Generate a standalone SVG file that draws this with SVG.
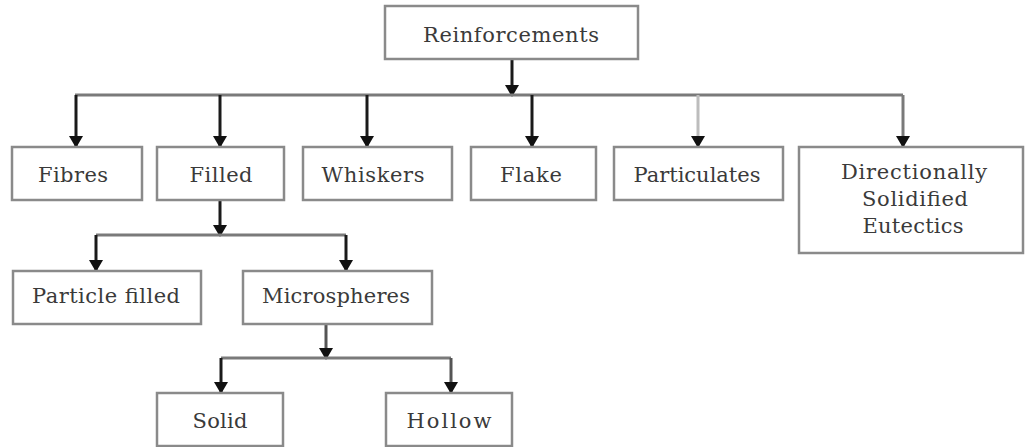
<svg xmlns="http://www.w3.org/2000/svg" width="1028" height="447" viewBox="0 0 1028 447">
<style>
.box{fill:#fff;stroke:#8a8a8a;stroke-width:2.5}
.t{font-family:'DejaVu Serif','Liberation Serif',serif;font-size:21px;fill:#3a3a3a;text-anchor:middle}
.h{stroke:#7a7a7a;stroke-width:3;fill:none}
.v{stroke:#1a1a1a;stroke-width:3;fill:none;marker-end:url(#ah)}
</style>
<defs>
<marker id="ah" markerUnits="userSpaceOnUse" markerWidth="12" markerHeight="14" refX="11" refY="7" orient="auto" viewBox="0 0 12 14">
<path d="M0,0 L12,7 L0,14 Z" fill="#111"/>
</marker>
</defs>
<g id="connectors">
<line class="v" x1="512" y1="59" x2="512" y2="96"/>
<line class="h" x1="75" y1="95" x2="903" y2="95"/>
<line class="v" x1="76" y1="95" x2="76" y2="147"/>
<line class="v" x1="220" y1="95" x2="220" y2="147"/>
<line class="v" x1="367" y1="95" x2="367" y2="147"/>
<line class="v" x1="532" y1="95" x2="532" y2="147"/>
<line class="v" x1="698" y1="95" x2="698" y2="147" style="stroke:#bdbdbd"/>
<line class="v" x1="903" y1="95" x2="903" y2="147" style="stroke:#7a7a7a"/>
<line class="v" x1="220" y1="200" x2="220" y2="236"/>
<line class="h" x1="96" y1="235" x2="346" y2="235"/>
<line class="v" x1="96" y1="235" x2="96" y2="271"/>
<line class="v" x1="346" y1="235" x2="346" y2="271"/>
<line class="v" x1="326" y1="324" x2="326" y2="359" style="stroke:#555"/>
<line class="h" x1="221" y1="358" x2="451" y2="358"/>
<line class="v" x1="221" y1="358" x2="221" y2="393"/>
<line class="v" x1="451" y1="358" x2="451" y2="393" style="stroke:#555"/>
</g>
<g id="reinforcements"><rect class="box" x="385" y="6" width="253" height="53"/><text class="t" x="511" y="42" textLength="176" lengthAdjust="spacing">Reinforcements</text></g>
<g id="fibres"><rect class="box" x="12" y="147" width="130" height="53"/><text class="t" x="73" y="182" textLength="70" lengthAdjust="spacing">Fibres</text></g>
<g id="filled"><rect class="box" x="157" y="147" width="127" height="53"/><text class="t" x="221" y="182" textLength="63" lengthAdjust="spacing">Filled</text></g>
<g id="whiskers"><rect class="box" x="303" y="147" width="149" height="53"/><text class="t" x="373" y="182" textLength="103" lengthAdjust="spacing">Whiskers</text></g>
<g id="flake"><rect class="box" x="471" y="147" width="125" height="53"/><text class="t" x="531" y="182" textLength="62" lengthAdjust="spacing">Flake</text></g>
<g id="particulates"><rect class="box" x="614" y="147" width="169" height="53"/><text class="t" x="697" y="182" textLength="127" lengthAdjust="spacing">Particulates</text></g>
<g id="directionally"><rect class="box" x="799" y="147" width="224" height="106"/>
<text class="t" x="914" y="179" textLength="146" lengthAdjust="spacing">Directionally</text>
<text class="t" x="915" y="206" textLength="106" lengthAdjust="spacing">Solidified</text>
<text class="t" x="913" y="233" textLength="101" lengthAdjust="spacing">Eutectics</text></g>
<g id="particle-filled"><rect class="box" x="13" y="271" width="188" height="53"/><text class="t" x="106" y="303" textLength="148" lengthAdjust="spacing">Particle filled</text></g>
<g id="microspheres"><rect class="box" x="243" y="271" width="189" height="53"/><text class="t" x="336" y="303" textLength="148" lengthAdjust="spacing">Microspheres</text></g>
<g id="solid"><rect class="box" x="157" y="393" width="126" height="53"/><text class="t" x="220" y="428" textLength="55" lengthAdjust="spacing">Solid</text></g>
<g id="hollow"><rect class="box" x="386" y="393" width="126" height="53"/><text class="t" x="449" y="428" textLength="85" lengthAdjust="spacing">Hollow</text></g>
</svg>
